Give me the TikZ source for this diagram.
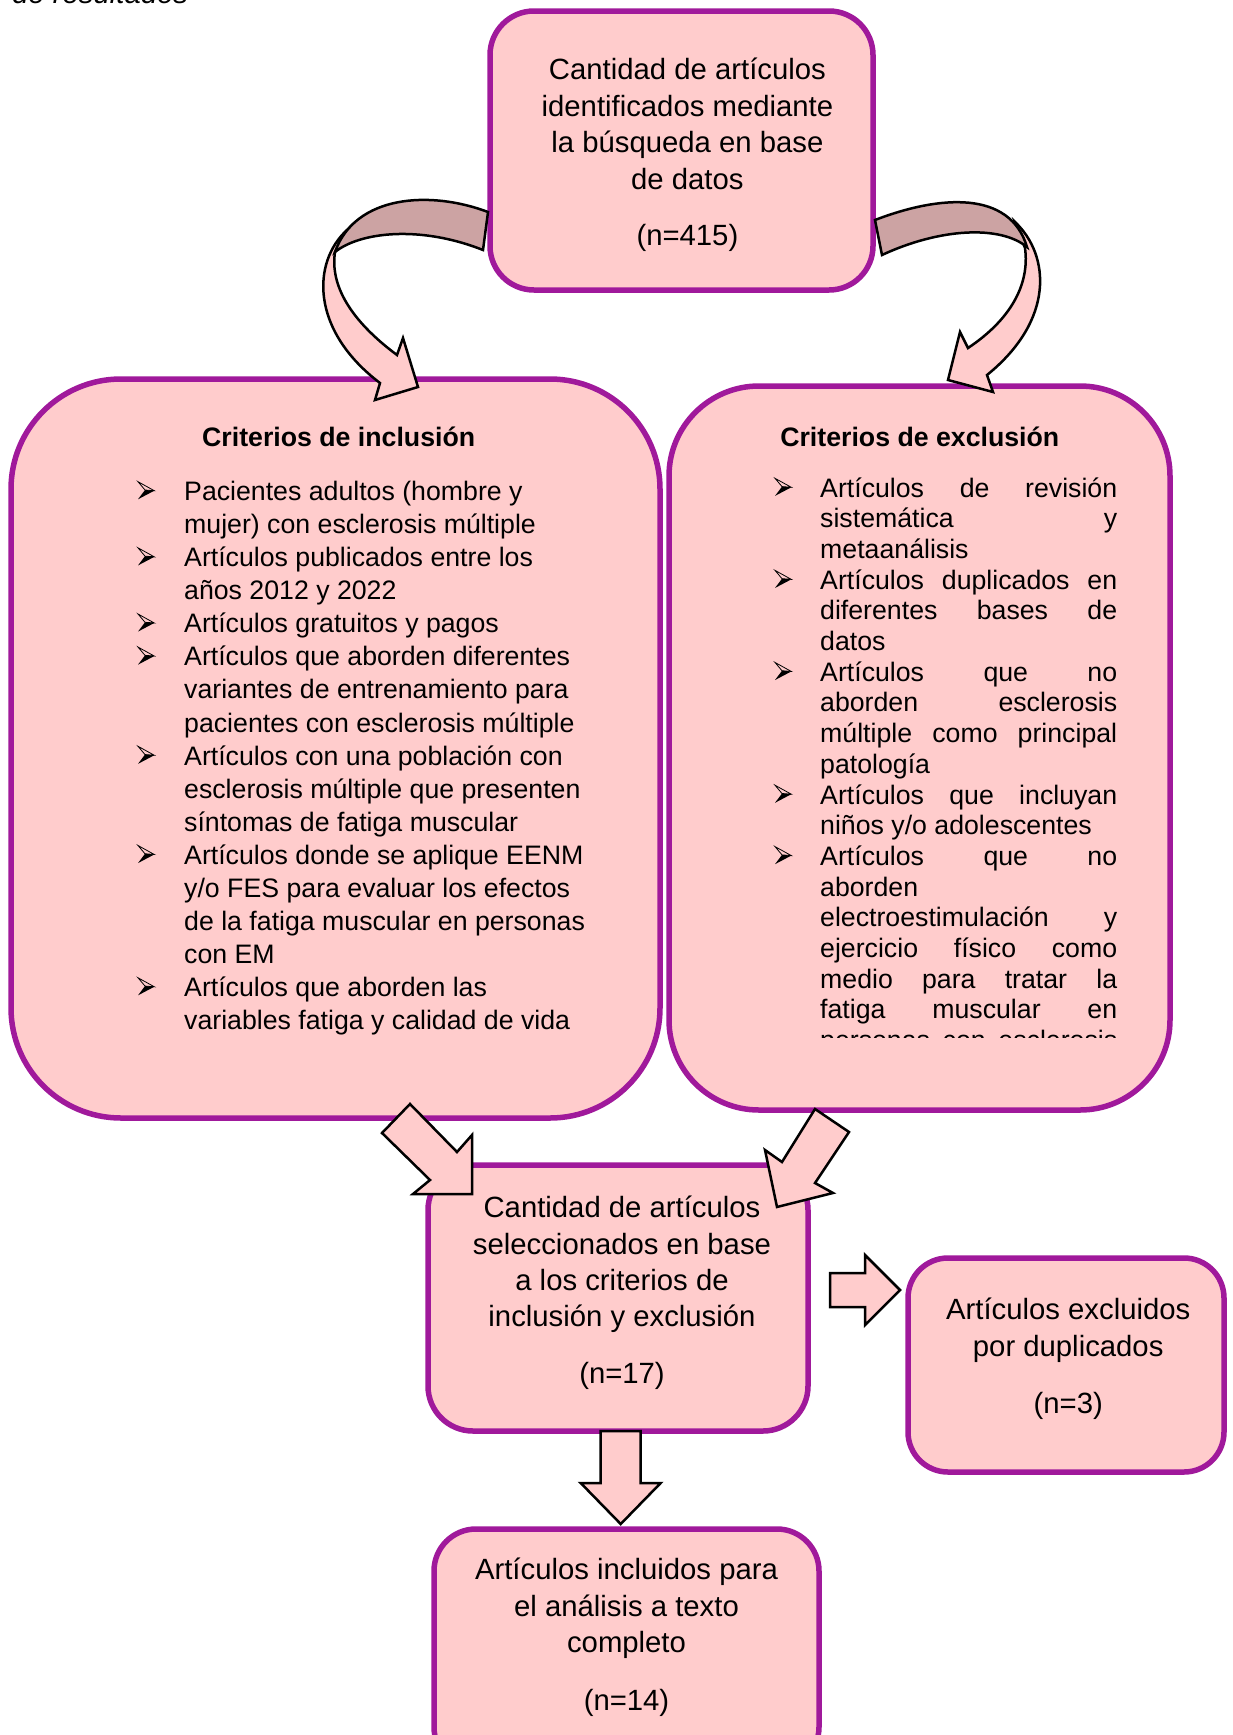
\documentclass[tikz,border=0pt]{standalone}
\usepackage{fontspec}
\setmainfont{Liberation Sans}
\definecolor{boxfill}{RGB}{255,204,204}
\definecolor{boxline}{RGB}{160,25,155}
\definecolor{darkband}{RGB}{204,163,163}
\newcommand\jline[1]{\makebox[297pt][s]{#1}}
\begin{document}
\begin{tikzpicture}[x=1pt,y=-1pt,
  box/.style={draw=boxline, fill=boxfill, line width=5.5pt, rectangle, inner sep=0pt},
  tbig/.style={anchor=base, inner sep=0pt, font=\fontsize{29.3}{36.5}\selectfont},
  tsm/.style={anchor=base west, inner sep=0pt, font=\fontsize{26.7}{33}\selectfont},
  thead/.style={anchor=base, inner sep=0pt, font=\bfseries\fontsize{26.7}{33}\selectfont},
  blockarrow/.style={draw=black, fill=boxfill, line width=2.5pt, line join=miter},
  bandlight/.style={draw=black, fill=boxfill, line width=2.5pt, line join=miter},
  banddark/.style={draw=black, fill=darkband, line width=2.5pt, line join=miter},
  arrowbullet/.pic={
    \draw[line width=0.8pt, line join=miter] (0,-18.8) -- (16.3,-9.8) -- (7,-10.5) -- cycle;
    \fill[black] (7,-10.5) -- (16.3,-9.8) -- (0,-1.2) -- cycle;}]
\useasboundingbox (0,0) rectangle (1232,1735);
\fill[white] (0,0) rectangle (1232,1735);

% caption remnant (cut by the top edge, as in the reference)
\node[anchor=base west, inner sep=0pt, font=\itshape\fontsize{29.3}{36}\selectfont] (cap) at (12,3.3) {de resultados};

% boxes
\node[box, rounded corners=44pt, minimum width=383pt, minimum height=279pt] (top) at (681.5,150.5) {};
\node[box, rounded corners=110pt, minimum width=649pt, minimum height=739pt] (inc) at (335.5,748.5) {};
\node[box, rounded corners=90pt, minimum width=501pt, minimum height=724pt] (exc) at (919.5,748) {};
\node[box, rounded corners=45pt, minimum width=380pt, minimum height=266pt] (mid) at (618,1298) {};
\node[box, rounded corners=40pt, minimum width=316pt, minimum height=214pt] (dup) at (1066,1365) {};
\node[box, rounded corners=42pt, minimum width=385pt, minimum height=240pt] (fin) at (626.5,1649) {};

% top text
\node[tbig] (t1) at (687.4,79.7) {Cantidad de artículos};
\node[tbig] (t2) at (687.4,116.3) {identificados mediante};
\node[tbig] (t3) at (687.4,152.8) {la búsqueda en base};
\node[tbig] (t4) at (687.4,189.3) {de datos};
\node[tbig] (t5) at (687.4,245.8) {(n=415)};

% headings
\node[thead] (h1) at (338.7,446.5) {Criterios de inclusión};
\node[thead] (h2) at (919.8,446.5) {Criterios de exclusión};

% inclusion list
\foreach \k/\t in {0/{Pacientes adultos (hombre y},
  1/{mujer) con esclerosis múltiple},
  2/{Artículos publicados entre los},
  3/{años 2012 y 2022},
  4/{Artículos gratuitos y pagos},
  5/{Artículos que aborden diferentes},
  6/{variantes de entrenamiento para},
  7/{pacientes con esclerosis múltiple},
  8/{Artículos con una población con},
  9/{esclerosis múltiple que presenten},
  10/{síntomas de fatiga muscular},
  11/{Artículos donde se aplique EENM},
  12/{y/o FES para evaluar los efectos},
  13/{de la fatiga muscular en personas},
  14/{con EM},
  15/{Artículos que aborden las},
  16/{variables fatiga y calidad de vida}}
  \node[tsm] (il\k) at (184,{500.5+33.07*\k}) {\t};
\foreach \k in {0,2,4,5,8,11,15}
  \pic at (138,{500.5+33.07*\k}) {arrowbullet};

% exclusion list
\foreach \k/\t in {0/{\jline{Artículos de revisión}},
  1/{\jline{sistemática y}},
  2/{metaanálisis},
  3/{\jline{Artículos duplicados en}},
  4/{\jline{diferentes bases de}},
  5/{datos},
  6/{\jline{Artículos que no}},
  7/{\jline{aborden esclerosis}},
  8/{\jline{múltiple como principal}},
  9/{patología},
  10/{\jline{Artículos que incluyan}},
  11/{niños y/o adolescentes},
  12/{\jline{Artículos que no}},
  13/{aborden},
  14/{\jline{electroestimulación y}},
  15/{\jline{ejercicio físico como}},
  16/{\jline{medio para tratar la}},
  17/{\jline{fatiga muscular en}}}
  \node[tsm] (el\k) at (820,{497.1+30.69*\k}) {\t};
\begin{scope}
  \clip (800,1000) rectangle (1140,1037);
  \node[tsm] (el18) at (820,{497.1+30.69*18}) {\jline{personas con esclerosis}};
\end{scope}
\foreach \k in {0,3,6,10,12}
  \pic at (775,{497.1+30.69*\k}) {arrowbullet};

% middle text
\node[tbig] (m1) at (622,1217.6) {Cantidad de artículos};
\node[tbig] (m2) at (622,1254.2) {seleccionados en base};
\node[tbig] (m3) at (622,1290.7) {a los criterios de};
\node[tbig] (m4) at (622,1326.1) {inclusión y exclusión};
\node[tbig] (m5) at (622,1383.7) {(n=17)};

% duplicates text
\node[tbig] (d1) at (1068.2,1319.5) {Artículos excluidos};
\node[tbig] (d2) at (1068.2,1356) {por duplicados};
\node[tbig] (d3) at (1068.2,1413.6) {(n=3)};

% final text
\node[tbig] (f1) at (626.5,1579.6) {Artículos incluidos para};
\node[tbig] (f2) at (626.5,1616.1) {el análisis a texto};
\node[tbig] (f3) at (626.5,1652.6) {completo};
\node[tbig] (f4) at (626.5,1710.2) {(n=14)};

% curved arrow left
\draw[bandlight] (347,230) .. controls (312,262) and (310,330) .. (380,383)
  -- (375,400) -- (418,387) -- (403,338) -- (397,355)
  .. controls (350,320) and (330,285) .. (335,252) -- cycle;
\draw[banddark] (488,212) .. controls (430,190) and (355,195) .. (335,252)
  .. controls (360,232) and (420,225) .. (483,250) -- cycle;

% curved arrow right
\draw[bandlight] (1015,222) .. controls (1050,255) and (1055,320) .. (987,375)
  -- (993,392) -- (948,380) -- (960,332) -- (968,348)
  .. controls (1010,320) and (1030,285) .. (1025,248) -- cycle;
\draw[banddark] (875,220) .. controls (940,195) and (1010,190) .. (1027,247)
  .. controls (1000,225) and (940,228) .. (882,255) -- cycle;

% block arrows
\draw[blockarrow] (410,1104) -- (457,1152) -- (472,1135) -- (472,1194) -- (413,1194) -- (430,1180) -- (382,1133) -- cycle;
\draw[blockarrow] (815,1109) -- (782,1162) -- (765,1150) -- (777,1207) -- (833,1193) -- (815,1183) -- (849,1132) -- cycle;
\draw[blockarrow] (830,1273) -- (865,1273) -- (865,1255) -- (900,1290) -- (865,1325) -- (865,1307) -- (830,1307) -- cycle;
\draw[blockarrow] (600.7,1431) -- (640.7,1431) -- (640.7,1483) -- (660.7,1483) -- (620.7,1524) -- (580.7,1483) -- (600.7,1483) -- cycle;
\end{tikzpicture}
\end{document}
